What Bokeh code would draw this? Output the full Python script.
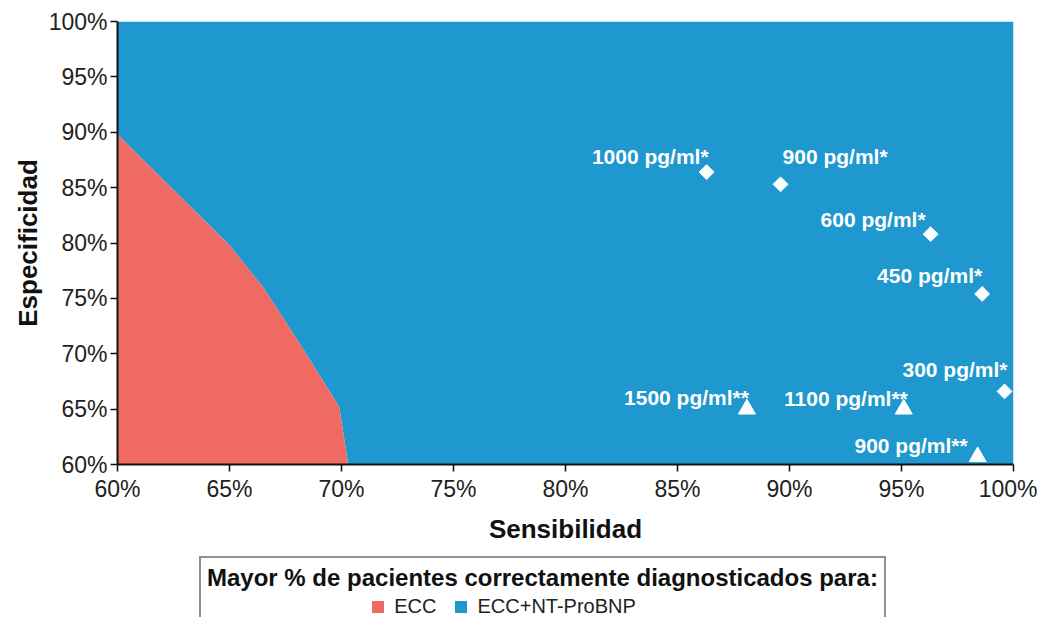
from math import pi
from bokeh.plotting import figure
from bokeh.layouts import column
from bokeh.models import ColumnDataSource, FixedTicker, PrintfTickFormatter, Legend, LegendItem
from bokeh.core.properties import value
from bokeh.embed import file_html
from bokeh.resources import INLINE

# ---- data (percent) ----
x_ticks = [60, 65, 70, 75, 80, 85, 90, 95, 100]
y_ticks = [60, 65, 70, 75, 80, 85, 90, 95, 100]
x_range = (60, 100)
y_range = (60, 100)

# Boundary of the region where ECC alone diagnoses more patients correctly
ecc_x = [60.0, 65.0, 66.5, 68.2, 69.9, 70.3]
ecc_y = [89.8, 79.8, 76.0, 70.7, 65.2, 60.0]

# NT-ProBNP cut-offs
dia_labels = ["1000 pg/ml*", "900 pg/ml*", "600 pg/ml*", "450 pg/ml*", "300 pg/ml*"]
dia_sens = [86.3, 89.6, 96.3, 98.6, 99.6]
dia_spec = [86.4, 85.3, 80.8, 75.4, 66.6]

tri_labels = ["1500 pg/ml**", "1100 pg/ml**", "900 pg/ml**"]
tri_sens = [88.1, 95.1, 98.4]
tri_spec = [65.0, 65.0, 60.7]

legend_title = "Mayor % de pacientes correctamente diagnosticados para:"
legend_labels = ["ECC", "ECC+NT-ProBNP"]

# ---- styling ----
RED = "#EE6A62"
BLUE = "#1E98CE"
FONT = "Liberation Sans"

# label placement (screen px offsets / alignment), same order as labels
dia_xoff = [2, 2, -5, 0, 3]
dia_yoff = [-16, -28, -15, -18, -22]
dia_align = ["right", "left", "right", "right", "right"]
tri_xoff = [2, 4, -10]
tri_yoff = [-12, -11, -11]
tri_align = ["right", "right", "right"]

p = figure(
    width=1037, height=546,
    x_range=x_range, y_range=y_range,
    output_backend="svg", toolbar_location=None,
    min_border_left=117, min_border_right=24, min_border_top=21, min_border_bottom=80,
    background_fill_color="white", border_fill_color="white",
)
p.outline_line_color = None
p.xgrid.visible = False
p.ygrid.visible = False

# blue region: above ECC boundary, extended to 100% sensitivity
blue_x = ecc_x + [x_range[1]]
blue_lo = ecc_y + [y_range[0]]
blue_hi = [y_range[1]] * len(blue_x)
p.varea(x=blue_x, y1=blue_lo, y2=blue_hi, fill_color=BLUE)
p.varea(x=ecc_x, y1=[y_range[0]] * len(ecc_x), y2=ecc_y, fill_color=RED)

dsrc = ColumnDataSource(dict(x=dia_sens, y=dia_spec, t=dia_labels, xo=dia_xoff, yo=dia_yoff, al=dia_align))
tsrc = ColumnDataSource(dict(x=tri_sens, y=tri_spec, t=tri_labels, xo=tri_xoff, yo=tri_yoff, al=tri_align))

for src in (dsrc, tsrc):
    p.text("x", "y", text="t", source=src, x_offset="xo", y_offset="yo", text_align="al",
           text_baseline="alphabetic", text_color="white", text_font=value(FONT),
           text_font_style="bold", text_font_size="21px")

p.scatter("x", "y", source=dsrc, marker="square", angle=pi / 4, size=10.5,
          fill_color="white", line_color="white")
p.scatter("x", "y", source=tsrc, marker="triangle", size=17,
          fill_color="white", line_color="white")

# axes
for ax in (p.xaxis[0], p.yaxis[0]):
    ax.axis_line_width = 2
    ax.axis_line_color = "#111111"
    ax.major_tick_line_width = 1.5
    ax.major_tick_line_color = "#111111"
    ax.major_tick_out = 7
    ax.major_tick_in = 0
    ax.minor_tick_line_color = None
    ax.major_label_text_font = FONT
    ax.major_label_text_font_size = "23px"
    ax.major_label_text_color = "#222222"
    ax.axis_label_text_font = FONT
    ax.axis_label_text_font_size = "26px"
    ax.axis_label_text_font_style = "bold"
    ax.axis_label_text_color = "#111111"
    ax.formatter = PrintfTickFormatter(format="%d%%")

p.xaxis.ticker = FixedTicker(ticks=x_ticks)
p.yaxis.ticker = FixedTicker(ticks=y_ticks)
p.xaxis.axis_label = "Sensibilidad"
p.yaxis.axis_label = "Especificidad"
p.xaxis.major_label_standoff = 4
p.xaxis.axis_label_standoff = 9
p.yaxis.major_label_standoff = 3
p.yaxis.axis_label_standoff = 3

# ---- legend panel (separate strip under the chart) ----
lg = figure(
    width=1037, height=71, output_backend="svg", toolbar_location=None,
    x_axis_type=None, y_axis_type=None,
    min_border_left=0, min_border_right=0, min_border_top=0, min_border_bottom=0,
    background_fill_color="white", border_fill_color="white",
)
lg.outline_line_color = None
lg.xgrid.visible = False
lg.ygrid.visible = False
# zero-size swatch carriers for the legend entries
sw_spacer = lg.quad(left=[0], right=[0], bottom=[0], top=[0], fill_alpha=0, line_alpha=0)
sw_red = lg.quad(left=[0], right=[0], bottom=[0], top=[0], fill_color=RED, line_color=None)
sw_blue = lg.quad(left=[0], right=[0], bottom=[0], top=[0], fill_color=BLUE, line_color=None)

legend = Legend(
    items=[LegendItem(label="\u00a0" * 22, renderers=[sw_spacer]),
           LegendItem(label=legend_labels[0], renderers=[sw_red]),
           LegendItem(label=legend_labels[1], renderers=[sw_blue])],
    orientation="horizontal", location=(82, -9),
    title=legend_title,
    title_text_font=FONT, title_text_font_size="24px", title_text_font_style="bold",
    title_text_color="#111111", title_standoff=3,
    label_text_font=FONT, label_text_font_size="20px", label_text_color="#222222",
    glyph_width=15, glyph_height=15, label_standoff=9, spacing=17, label_height=20,
    padding=6, margin=0,
    border_line_color="#222222", border_line_width=2, background_fill_color="white",
    background_fill_alpha=1,
)
lg.add_layout(legend, "center")

open("out.html", "w").write(file_html(column(p, lg, spacing=0), INLINE))
